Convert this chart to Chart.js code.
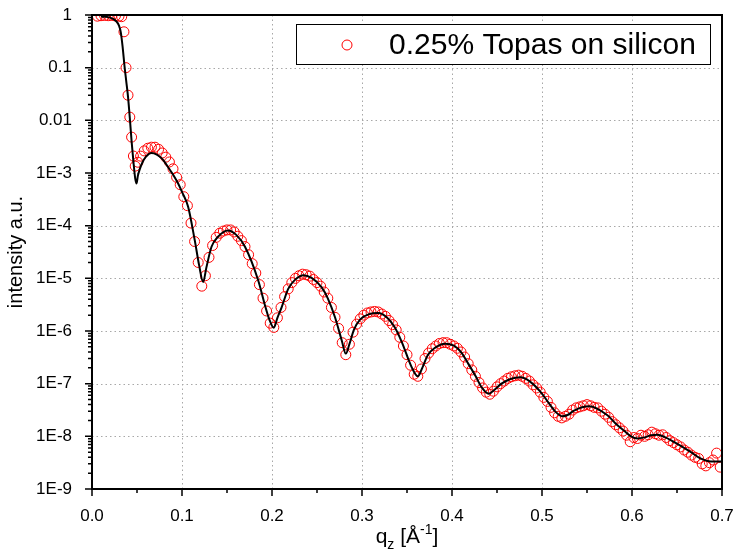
<!DOCTYPE html>
<html>
<head>
<meta charset="utf-8">
<script src="https://cdn.jsdelivr.net/npm/chart.js@4.4.1/dist/chart.umd.min.js"></script>
<style>
    html, body { margin: 0; padding: 0; background: #fff; }
    #wrap { width: 735px; height: 552px; }
</style>
</head>
<body>
<div id="wrap"><canvas id="chart" width="735" height="552"></canvas></div>
<script>
// measured reflectivity (red circles)
const dataQ = [
    0.006, 0.010, 0.014, 0.018, 0.022, 0.026, 0.030, 0.033, 0.0355, 0.0378, 0.040, 0.042, 0.044, 0.046, 0.048, 0.051,
    0.054, 0.058, 0.062, 0.066, 0.070, 0.074, 0.078, 0.082, 0.086, 0.090,
    0.094, 0.098, 0.102, 0.106, 0.110, 0.114, 0.118, 0.122, 0.126, 0.130,
    0.134, 0.138, 0.142, 0.146, 0.150, 0.154, 0.158, 0.162, 0.166, 0.170,
    0.174, 0.178, 0.182, 0.186, 0.190, 0.194, 0.198, 0.202, 0.206, 0.210,
    0.214, 0.218, 0.222, 0.226, 0.230, 0.234, 0.238, 0.242, 0.246, 0.250,
    0.254, 0.258, 0.262, 0.266, 0.270, 0.274, 0.278, 0.282, 0.286, 0.290,
    0.294, 0.298, 0.302, 0.306, 0.310, 0.314, 0.318, 0.322, 0.326, 0.330,
    0.334, 0.338, 0.342, 0.346, 0.350, 0.354, 0.358, 0.362, 0.366, 0.370,
    0.374, 0.378, 0.382, 0.386, 0.390, 0.394, 0.398, 0.402, 0.406, 0.410,
    0.414, 0.418, 0.422, 0.426, 0.430, 0.434, 0.438, 0.442, 0.446, 0.450,
    0.454, 0.458, 0.462, 0.466, 0.470, 0.474, 0.478, 0.482, 0.486, 0.490,
    0.494, 0.498, 0.502, 0.506, 0.510, 0.514, 0.518, 0.522, 0.526, 0.530,
    0.534, 0.538, 0.542, 0.546, 0.550, 0.554, 0.558, 0.562, 0.566, 0.570,
    0.574, 0.578, 0.582, 0.586, 0.590, 0.594, 0.598, 0.602, 0.606, 0.610,
    0.614, 0.618, 0.622, 0.626, 0.630, 0.634, 0.638, 0.642, 0.646, 0.650,
    0.654, 0.658, 0.662, 0.666, 0.670, 0.674, 0.678, 0.682, 0.686, 0.690,
    0.694, 0.698
];
const dataI = [
    0.95, 0.97, 0.98, 0.97, 0.98, 0.96, 0.95, 0.93, 0.48, 0.10, 0.030, 0.0115, 4.8e-3, 2.1e-3, 1.35e-3, 1.6e-3,
    2.09e-3, 2.63e-3, 2.95e-3, 3.09e-3, 3.09e-3, 2.82e-3, 2.40e-3, 2.0e-3, 1.62e-3, 1.20e-3,
    8.3e-4, 6.0e-4, 3.55e-4, 2.4e-4, 1.12e-4, 5.0e-5, 2.0e-5, 7.1e-6, 1.12e-5, 2.5e-5,
    4.2e-5, 6.0e-5, 7.2e-5, 7.9e-5, 8.3e-5, 8.3e-5, 7.6e-5, 6.3e-5, 5.2e-5, 4.0e-5,
    2.8e-5, 1.9e-5, 1.26e-5, 7.6e-6, 4.2e-6, 2.4e-6, 1.41e-6, 1.17e-6, 1.78e-6, 2.8e-6,
    4.5e-6, 6.3e-6, 8.3e-6, 1.0e-5, 1.12e-5, 1.2e-5, 1.17e-5, 1.10e-5, 9.5e-6, 8.3e-6,
    7.1e-6, 5.5e-6, 4.2e-6, 2.8e-6, 1.82e-6, 1.12e-6, 6.0e-7, 3.55e-7, 5.6e-7, 9.5e-7,
    1.35e-6, 1.70e-6, 2.0e-6, 2.2e-6, 2.3e-6, 2.35e-6, 2.3e-6, 2.1e-6, 1.9e-6, 1.58e-6,
    1.32e-6, 1.05e-6, 7.6e-7, 5.2e-7, 3.55e-7, 2.24e-7, 1.51e-7, 1.38e-7, 1.9e-7, 3.0e-7,
    3.8e-7, 4.6e-7, 5.2e-7, 5.8e-7, 6.0e-7, 6.0e-7, 5.6e-7, 5.2e-7, 4.7e-7, 4.0e-7,
    3.2e-7, 2.4e-7, 1.82e-7, 1.38e-7, 1.05e-7, 8.3e-8, 6.9e-8, 6.3e-8, 7.2e-8, 8.7e-8,
    1.0e-7, 1.12e-7, 1.26e-7, 1.35e-7, 1.41e-7, 1.45e-7, 1.38e-7, 1.26e-7, 1.12e-7, 9.5e-8,
    8.3e-8, 6.9e-8, 5.5e-8, 4.6e-8, 3.55e-8, 2.8e-8, 2.4e-8, 2.24e-8, 2.4e-8, 2.63e-8,
    3.16e-8, 3.47e-8, 3.63e-8, 3.8e-8, 4.0e-8, 3.8e-8, 3.55e-8, 3.47e-8, 3.0e-8, 2.63e-8,
    2.3e-8, 1.9e-8, 1.66e-8, 1.45e-8, 1.26e-8, 1.05e-8, 7.9e-9, 9.5e-9, 9.1e-9, 1.05e-8,
    1.0e-8, 1.07e-8, 1.2e-8, 1.12e-8, 1.05e-8, 1.07e-8, 9.5e-9, 8.3e-9, 7.6e-9, 6.9e-9,
    6.3e-9, 5.5e-9, 5.0e-9, 4.4e-9, 4.0e-9, 3.8e-9, 3.0e-9, 2.75e-9, 3.16e-9, 3.55e-9,
    4.8e-9, 2.6e-9
];

// fitted model (black line)
const fitQ = [
    0.010, 0.015, 0.020, 0.024, 0.027, 0.030, 0.032, 0.034, 0.036, 0.038,
    0.040, 0.042, 0.044, 0.046, 0.048, 0.0495, 0.051, 0.053, 0.056, 0.060,
    0.066, 0.072, 0.078, 0.085, 0.090, 0.0957, 0.100, 0.1068, 0.1142, 0.119,
    0.1235, 0.127, 0.1328, 0.140, 0.151, 0.160, 0.170, 0.1847, 0.192, 0.197,
    0.202, 0.206, 0.2107, 0.218, 0.226, 0.235, 0.244, 0.2552, 0.262, 0.270,
    0.2775, 0.282, 0.286, 0.291, 0.298, 0.308, 0.318, 0.328, 0.336, 0.344,
    0.3553, 0.362, 0.367, 0.373, 0.381, 0.3925, 0.402, 0.410, 0.418, 0.426,
    0.433, 0.4407, 0.447, 0.455, 0.465, 0.476, 0.486, 0.4986, 0.508, 0.516,
    0.5227, 0.529, 0.5356, 0.5523, 0.5727, 0.582, 0.591, 0.599, 0.606, 0.614,
    0.621, 0.6284, 0.636, 0.647, 0.6655, 0.676, 0.684, 0.692, 0.700
];
const fitI = [
    0.933, 0.923, 0.891, 0.832, 0.759, 0.631, 0.468, 0.251, 0.112, 0.0562,
    0.0282, 0.0112, 3.98e-3, 1.66e-3, 7.94e-4, 6.31e-4, 8.91e-4, 1.17e-3, 1.58e-3, 2.04e-3,
    2.40e-3, 2.24e-3, 1.86e-3, 1.26e-3, 9.33e-4, 6.31e-4, 4.37e-4, 2.29e-4, 5.25e-5, 1.78e-5,
    8.51e-6, 1.58e-5, 3.98e-5, 6.17e-5, 8.13e-5, 6.76e-5, 3.98e-5, 9.12e-6, 3.16e-6, 1.66e-6,
    1.15e-6, 1.78e-6, 2.82e-6, 6.31e-6, 9.55e-6, 1.15e-5, 1.02e-5, 6.76e-6, 4.17e-6, 1.82e-6,
    6.61e-7, 3.72e-7, 5.62e-7, 1.05e-6, 1.66e-6, 2.09e-6, 2.19e-6, 1.78e-6, 1.20e-6, 6.31e-7,
    2.04e-7, 1.38e-7, 2.0e-7, 3.47e-7, 4.79e-7, 5.75e-7, 5.25e-7, 3.98e-7, 2.40e-7, 1.41e-7,
    8.51e-8, 6.46e-8, 7.59e-8, 1.0e-7, 1.23e-7, 1.32e-7, 1.12e-7, 6.92e-8, 4.17e-8, 2.82e-8,
    2.40e-8, 2.57e-8, 3.09e-8, 3.72e-8, 2.51e-8, 1.74e-8, 1.29e-8, 1.0e-8, 9.12e-9, 9.55e-9,
    1.05e-8, 1.07e-8, 9.77e-9, 7.76e-9, 5.01e-9, 3.80e-9, 3.39e-9, 3.31e-9, 3.31e-9
];

// axis ticks
const xTickValues = [0, 0.1, 0.2, 0.3, 0.4, 0.5, 0.6, 0.7];
const xTickLabels = ['0.0', '0.1', '0.2', '0.3', '0.4', '0.5', '0.6', '0.7'];
const yTickValues = [1, 0.1, 0.01, 1e-3, 1e-4, 1e-5, 1e-6, 1e-7, 1e-8, 1e-9];
const yTickLabels = ['1', '0.1', '0.01', '1E-3', '1E-4', '1E-5', '1E-6', '1E-7', '1E-8', '1E-9'];
const seriesLabel = '0.25% Topas on silicon';

const FONT = "'Liberation Sans', Arial, sans-serif";

// frame, ticks, dotted grid, legend and x title
const framePlugin = {
    id: 'framePlugin',
    beforeDatasetsDraw(chart) {
        const ctx = chart.ctx;
        const area = chart.chartArea;
        const xs = chart.scales.x, ys = chart.scales.y;
        ctx.save();
        ctx.strokeStyle = '#a8a8a8';
        ctx.lineWidth = 1;
        ctx.setLineDash([1.5, 3]);
        xTickValues.forEach(function(v) {
            const px = Math.round(xs.getPixelForValue(v)) + 0.5;
            ctx.beginPath();
            ctx.moveTo(px, area.top);
            ctx.lineTo(px, area.bottom);
            ctx.stroke();
        });
        yTickValues.forEach(function(v) {
            const py = Math.round(ys.getPixelForValue(v)) + 0.5;
            ctx.beginPath();
            ctx.moveTo(area.left, py);
            ctx.lineTo(area.right, py);
            ctx.stroke();
        });
        ctx.restore();
    },
    afterDatasetsDraw(chart) {
        const ctx = chart.ctx;
        const area = chart.chartArea;
        const xs = chart.scales.x, ys = chart.scales.y;
        ctx.save();
        ctx.strokeStyle = '#000';
        ctx.lineWidth = 2;
        ctx.strokeRect(area.left, area.top, area.right - area.left, area.bottom - area.top);

        // y ticks (major + minor) pointing out
        ctx.lineWidth = 1.5;
        ctx.beginPath();
        yTickValues.forEach(function(v) {
            const py = ys.getPixelForValue(v);
            ctx.moveTo(area.left - 7, py);
            ctx.lineTo(area.left, py);
            if (v < 1) {
                for (let m = 2; m <= 9; m++) {
                    const pm = ys.getPixelForValue(v * m);
                    ctx.moveTo(area.left - 4, pm);
                    ctx.lineTo(area.left, pm);
                }
            }
        });
        // x ticks
        xTickValues.forEach(function(v, i) {
            const px = xs.getPixelForValue(v);
            ctx.moveTo(px, area.bottom);
            ctx.lineTo(px, area.bottom + 7);
            if (i < xTickValues.length - 1) {
                const pm = xs.getPixelForValue((v + xTickValues[i + 1]) / 2);
                ctx.moveTo(pm, area.bottom);
                ctx.lineTo(pm, area.bottom + 4);
            }
        });
        ctx.stroke();

        // legend box
        const lx = 296.5, ly = 24.5, lw = 414, lh = 40;
        ctx.fillStyle = '#fff';
        ctx.fillRect(lx, ly, lw, lh);
        ctx.lineWidth = 1;
        ctx.strokeRect(lx, ly, lw, lh);
        ctx.strokeStyle = '#ff0000';
        ctx.beginPath();
        ctx.arc(347, 45, 5, 0, Math.PI * 2);
        ctx.stroke();
        ctx.fillStyle = '#000';
        ctx.font = '30px ' + FONT;
        ctx.textBaseline = 'middle';
        ctx.textAlign = 'left';
        ctx.fillText(seriesLabel, 389, 46);

        // x axis title: q_z [Å^-1]
        const big = '21px ' + FONT, small = '14px ' + FONT;
        const parts = [
            { t: 'q', f: big, dy: 0 },
            { t: 'z', f: small, dy: 6 },
            { t: ' [Å', f: big, dy: 0 },
            { t: '-1', f: small, dy: -9 },
            { t: ']', f: big, dy: 0 }
        ];
        let total = 0;
        parts.forEach(function(p) { ctx.font = p.f; p.w = ctx.measureText(p.t).width; total += p.w; });
        let cx = (area.left + area.right) / 2 - total / 2;
        const base = 543;
        ctx.textBaseline = 'alphabetic';
        parts.forEach(function(p) {
            ctx.font = p.f;
            ctx.fillText(p.t, cx, base + p.dy);
            cx += p.w;
        });
        ctx.restore();
    }
};

const ctx = document.getElementById('chart');
new Chart(ctx, {
    type: 'scatter',
    data: {
        datasets: [
            {
                label: 'fit',
                data: fitQ.map(function(q, i) { return { x: q, y: fitI[i] }; }),
                showLine: true,
                borderColor: '#000',
                borderWidth: 2,
                pointRadius: 0,
                cubicInterpolationMode: 'monotone',
                clip: 0,
                order: 0
            },
            {
                label: seriesLabel,
                data: dataQ.map(function(q, i) { return { x: q, y: dataI[i] }; }),
                showLine: false,
                pointStyle: 'circle',
                pointRadius: 5,
                borderColor: '#ff0000',
                backgroundColor: 'rgba(0,0,0,0)',
                borderWidth: 1,
                clip: 0,
                order: 1
            }
        ]
    },
    options: {
        responsive: false,
        animation: false,
        layout: { padding: { top: 15, right: 13, left: 0, bottom: 0 } },
        plugins: {
            legend: { display: false },
            tooltip: { enabled: false }
        },
        scales: {
            x: {
                type: 'linear',
                min: 0,
                max: 0.7,
                grid: { display: false },
                border: { display: false },
                afterBuildTicks: function(scale) {
                    scale.ticks = xTickValues.map(function(v) { return { value: v }; });
                },
                afterFit: function(scale) {
                    scale.height = 63;
                    scale.paddingLeft = 0;
                    scale.paddingRight = 0;
                },
                ticks: {
                    autoSkip: false,
                    maxRotation: 0,
                    padding: 9,
                    color: '#000',
                    font: { family: FONT, size: 17 },
                    callback: function(value, index) { return xTickLabels[index]; }
                }
            },
            y: {
                type: 'logarithmic',
                min: 1e-9,
                max: 1,
                grid: { display: false },
                border: { display: false },
                afterBuildTicks: function(scale) {
                    scale.ticks = yTickValues.slice().reverse().map(function(v) { return { value: v }; });
                },
                afterFit: function(scale) {
                    scale.width = 92;
                    scale.paddingTop = 0;
                    scale.paddingBottom = 0;
                },
                title: {
                    display: true,
                    text: 'intensity a.u.',
                    color: '#000',
                    font: { family: FONT, size: 20 },
                    padding: { top: 4, bottom: 0 }
                },
                ticks: {
                    autoSkip: false,
                    padding: 12,
                    color: '#000',
                    font: { family: FONT, size: 17 },
                    callback: function(value) {
                        const k = yTickValues.findIndex(function(v) { return Math.abs(Math.log10(v / value)) < 0.01; });
                        return k >= 0 ? yTickLabels[k] : '';
                    }
                }
            }
        }
    },
    plugins: [framePlugin]
});
</script>
</body>
</html>
